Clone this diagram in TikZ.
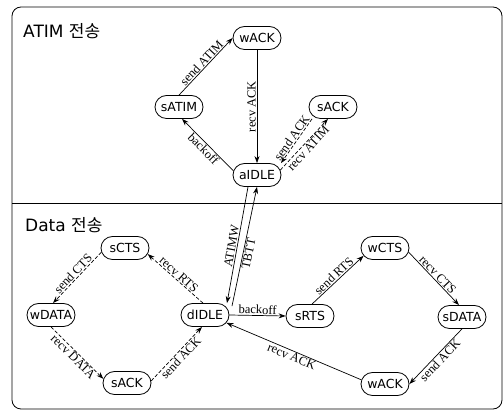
\documentclass[tikz,border=0pt]{standalone}
\usepackage{fontspec}
\setmainfont[Ligatures=NoCommon]{Liberation Serif}
\newfontfamily\nodefont{DejaVu Sans}
\newfontfamily\krfont{Noto Sans CJK KR}
\usetikzlibrary{arrows.meta,shapes.misc}
\begin{document}
\begin{tikzpicture}[x=1pt,y=-1pt,
  st/.style={draw, rounded rectangle, minimum width=60pt, minimum height=23pt,
    inner xsep=6pt, inner ysep=2pt, line width=0.8pt,
    font=\nodefont\fontsize{12.5}{14}\selectfont},
  lab/.style={font=\fontsize{12.5}{14}\selectfont, inner sep=1pt, sloped, midway},
  vlab/.style={font=\fontsize{12.5}{14}\selectfont, inner sep=1pt, midway, rotate=90, anchor=south},
  tr/.style={-{Stealth[length=7pt,width=5pt]}, line width=0.7pt},
  dtr/.style={tr, dash pattern=on 3.5pt off 2pt},
  ttl/.style={anchor=west, inner sep=0pt, font=\nodefont\fontsize{17}{20}\selectfont}
  ]
\useasboundingbox (0,0) rectangle (504,411);
% frame
\draw[line width=0.8pt, rounded corners=9pt] (12,7) rectangle (502,409);
\draw[line width=0.8pt] (12,203) -- (502,203);
% titles
\node[ttl] (t1) at (23,31) {ATIM {\krfont 전송}};
\node[ttl] (t2) at (25,225) {Data {\krfont 전송}};
% ATIM nodes
\node[st] (wACKa) at (257,38) {wACK};
\node[st] (sATIM) at (179,107) {sATIM};
\node[st] (sACKa) at (333,107) {sACK};
\node[st] (aIDLE) at (257,175) {aIDLE};
% Data nodes
\node[st] (sCTS) at (125,248) {sCTS};
\node[st] (wDATA) at (51,315) {wDATA};
\node[st] (dIDLE) at (205,315) {dIDLE};
\node[st] (sACKd) at (127,383) {sACK};
\node[st] (sRTS) at (310,316) {sRTS};
\node[st] (wCTS) at (385,248) {wCTS};
\node[st] (sDATA) at (462,317) {sDATA};
\node[st] (wACKd) at (385,384) {wACK};
% ATIM edges
\draw[tr] (sATIM.north) -- (wACKa.west) node[lab, above] {send ATIM};
\draw[tr] (wACKa.south) -- (aIDLE.north) node[vlab] {recv ACK};
\draw[tr] (aIDLE.170) -- ([xshift=3pt]sATIM.south) node[lab, below] {backoff};
\draw[dtr] ([xshift=-21pt]sACKa.south) -- ([xshift=24pt]aIDLE.north) node[lab, above] {send ACK};
\draw[dtr] (aIDLE.12) -- ([xshift=-5pt]sACKa.south) node[lab, below] {recv ATIM};
% between
\draw[tr] ([xshift=-9pt]aIDLE.south) -- ([xshift=22pt]dIDLE.north) node[lab, above, pos=0.52] {ATIMW};
\draw[tr] ([xshift=27pt,yshift=-3pt]dIDLE.north) -- (aIDLE.south) node[lab, below, pos=0.45] {TBTT};
% Data edges
\draw[dtr] ([xshift=-2pt]dIDLE.north) -- (sCTS.-15) node[lab, above] {recv RTS};
\draw[dtr] (sCTS.190) -- ([xshift=2pt]wDATA.north) node[lab, above] {send CTS};
\draw[dtr] (wDATA.south) -- (sACKd.170) node[lab, below] {recv DATA};
\draw[dtr] (sACKd.5) -- ([xshift=-3pt]dIDLE.south) node[lab, below] {send ACK};
\draw[tr] (dIDLE.east) -- (sRTS.west) node[lab, above] {backoff};
\draw[tr] ([xshift=2pt]sRTS.north) -- (wCTS.200) node[lab, above] {send RTS};
\draw[tr] (wCTS.-10) -- ([xshift=-3pt]sDATA.north) node[lab, above] {recv CTS};
\draw[tr] (sDATA.south) -- (wACKd.east) node[lab, below] {send ACK};
\draw[tr] (wACKd.170) -- (dIDLE.-20) node[lab, below] {recv ACK};
\end{tikzpicture}
\end{document}
